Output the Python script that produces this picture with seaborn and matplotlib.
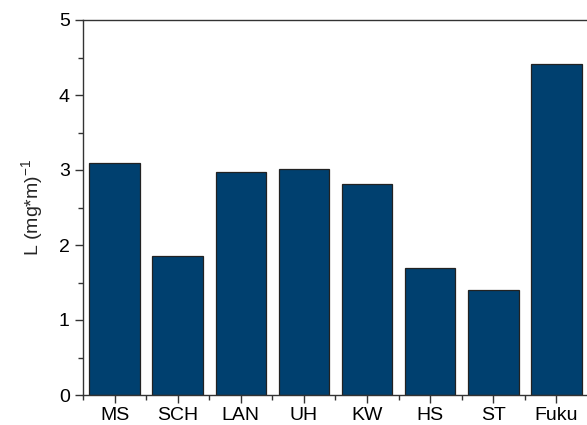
import numpy as np
import pandas as pd
import seaborn as sns
import matplotlib.pyplot as plt
from matplotlib.ticker import MultipleLocator, FixedLocator

sites = ['MS', 'SCH', 'LAN', 'UH', 'KW', 'HS', 'ST', 'Fuku']
values = [3.10, 1.85, 2.97, 3.02, 2.82, 1.70, 1.40, 4.42]

data = pd.DataFrame({'site': sites, 'L': values})

sns.set_theme(style='ticks')
plt.rcParams['font.family'] = ['Liberation Sans', 'DejaVu Sans']
plt.rcParams['mathtext.fontset'] = 'custom'
plt.rcParams['mathtext.rm'] = 'Liberation Sans'

fig = plt.figure(figsize=(5.87, 4.25), dpi=100)
ax = fig.add_axes([83 / 587, 30 / 425, 505 / 587, 375 / 425])

sns.barplot(data=data, x='site', y='L', color='#00406f', saturation=1,
            width=0.8, edgecolor='#222222', linewidth=0.9, ax=ax)

ax.set_xlim(-0.5, 7.5)
ax.set_ylim(0, 5)
ax.yaxis.set_major_locator(MultipleLocator(1))
ax.yaxis.set_minor_locator(MultipleLocator(0.5))
ax.xaxis.set_minor_locator(FixedLocator(np.arange(-0.5, 8, 1)))

for side in ['left', 'bottom', 'top', 'right']:
    ax.spines[side].set_visible(True)
    ax.spines[side].set_color('#333333')
    ax.spines[side].set_linewidth(1.0)

ax.tick_params(axis='both', which='major', direction='out', length=6, width=1,
               color='#333333', labelsize=14, labelcolor='black')
ax.tick_params(axis='both', which='minor', direction='out', length=3.5, width=1,
               color='#333333')
ax.tick_params(axis='x', which='major', pad=3)

ax.set_xlabel('')
ax.set_ylabel('L (mg*m)$^{\\mathrm{-1}}$', fontsize=14, labelpad=9)

fig.savefig('out.png', dpi=100)
